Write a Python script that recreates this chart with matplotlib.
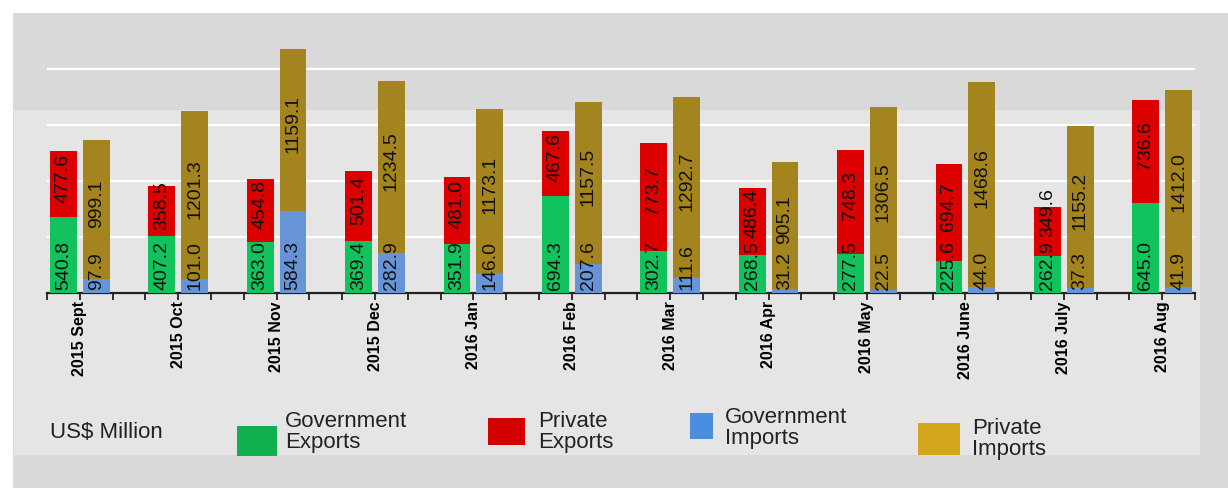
import matplotlib
matplotlib.use("Agg")
import matplotlib.pyplot as plt
from matplotlib.patches import Rectangle
import numpy as np

months = ["2015 Sept", "2015 Oct", "2015 Nov", "2015 Dec", "2016 Jan", "2016 Feb",
          "2016 Mar", "2016 Apr", "2016 May", "2016 June", "2016 July", "2016 Aug"]
gov_exports = [540.8, 407.2, 363.0, 369.4, 351.9, 694.3, 302.7, 268.5, 277.5, 225.6, 262.9, 645.0]
priv_exports = [477.6, 358.5, 454.8, 501.4, 481.0, 467.6, 773.7, 486.4, 748.3, 694.7, 349.6, 736.6]
gov_imports = [97.9, 101.0, 584.3, 282.9, 146.0, 207.6, 111.6, 31.2, 22.5, 44.0, 37.3, 41.9]
priv_imports = [999.1, 1201.3, 1159.1, 1234.5, 1173.1, 1157.5, 1292.7, 905.1, 1306.5, 1468.6, 1155.2, 1412.0]
legend_labels = ["Government\nExports", "Private\nExports", "Government\nImports", "Private\nImports"]
unit_label = "US$ Million"

W, H = 1228, 488
fig = plt.figure(figsize=(W / 100, H / 100), dpi=100)
fig.patch.set_facecolor("white")

def fx(px):
    return px / W

def fy(py):
    return 1 - py / H

# background panels (scanned look)
fig.patches.append(Rectangle((fx(13), 0), 1 - fx(13), fy(13), transform=fig.transFigure,
                             facecolor="#d9d9d9", edgecolor="none", zorder=-10))
fig.patches.append(Rectangle((fx(14), fy(455)), fx(1200) - fx(14), fy(110) - fy(455),
                             transform=fig.transFigure, facecolor="#e5e5e5",
                             edgecolor="none", zorder=-9))

ymax = 1800
px_per_unit = 0.1397
ax_h = ymax * px_per_unit
ax = fig.add_axes([fx(47), fy(293), fx(1195) - fx(47), ax_h / H])
ax.set_facecolor("none")

n = len(months)
x = np.arange(n) * 3
exp_x = x + 0.5
imp_x = x + 1.5
bw = 0.82

c_green = "#12c25c"
c_red = "#dc0000"
c_blue = "#6694d6"
c_gold = "#a3841f"

ax.bar(exp_x, gov_exports, bw, color=c_green, zorder=3)
ax.bar(exp_x, priv_exports, bw, bottom=gov_exports, color=c_red, zorder=3)
ax.bar(imp_x, gov_imports, bw, color=c_blue, zorder=3)
ax.bar(imp_x, priv_imports, bw, bottom=gov_imports, color=c_gold, zorder=3)

fs = 14
lab_font = dict(family=["Liberation Sans", "DejaVu Sans"],
                fontsize=fs, rotation=90, color="#111111", zorder=5)
em_px = fs * 100 / 72
def text_len_px(s):
    return sum(0.278 if c == "." else 0.556 for c in s) * em_px

off_px = 3
up_px = 6
gap_px = 4

def top_label_y(base_val, top_val, base_txt, top_txt):
    mid_px = (base_val + top_val / 2) * px_per_unit + up_px
    min_px = off_px + text_len_px(base_txt) + gap_px + text_len_px(top_txt) / 2
    return max(mid_px, min_px) / px_per_unit

for i in range(n):
    ge, pe = f"{gov_exports[i]:.1f}", f"{priv_exports[i]:.1f}"
    gi, pi = f"{gov_imports[i]:.1f}", f"{priv_imports[i]:.1f}"
    ax.text(exp_x[i], off_px / px_per_unit, ge, ha="center", va="bottom", **lab_font)
    ax.text(exp_x[i], top_label_y(gov_exports[i], priv_exports[i], ge, pe), pe,
            ha="center", va="center", **lab_font)
    ax.text(imp_x[i], off_px / px_per_unit, gi, ha="center", va="bottom", **lab_font)
    ax.text(imp_x[i], top_label_y(gov_imports[i], priv_imports[i], gi, pi), pi,
            ha="center", va="center", **lab_font)

ax.set_xlim(0, 35)
ax.set_ylim(0, ymax)
ax.set_yticks([400, 800, 1200, 1600])
ax.yaxis.grid(True, color="white", linewidth=1.6, zorder=0)
ax.tick_params(axis="y", left=False, labelleft=False)
for s in ["top", "right", "left"]:
    ax.spines[s].set_visible(False)
ax.spines["bottom"].set_linewidth(1.6)
ax.spines["bottom"].set_color("#222222")

ax.set_xticks(x + 1)
ax.set_xticks(np.arange(0, 36), minor=True)
ax.set_xticklabels(months, rotation=90, ha="center", va="top",
                   family=["Liberation Sans", "DejaVu Sans"],
                   fontweight="bold", fontsize=11.5)
ax.tick_params(axis="x", which="both", direction="out", length=5, width=1.3,
               color="#222222", pad=1)

# legend drawn manually
fig.text(fx(50), fy(432), unit_label, ha="left", va="center", fontsize=16,
         family=["Liberation Sans", "DejaVu Sans"], color="#222222")
swatches = [
    ((237, 426, 40, 30), (285, 432), "#12b04c"),
    ((488, 418, 37, 27), (538, 432), "#d40000"),
    ((690, 413, 23, 26), (725, 428), "#4a8ee0"),
    ((918, 423, 42, 32), (972, 439), "#d4a61c"),
]
for k, ((sx, sy, sw, sh), (tx, ty), col) in enumerate(swatches):
    fig.patches.append(Rectangle((fx(sx), fy(sy + sh)), sw / W, sh / H, transform=fig.transFigure,
                                 facecolor=col, edgecolor="none", zorder=2))
    fig.text(fx(tx), fy(ty), legend_labels[k], ha="left", va="center", fontsize=16,
             linespacing=1.0, family=["Liberation Sans", "DejaVu Sans"], color="#222222")

fig.savefig("out.png", dpi=100, facecolor=fig.get_facecolor())
